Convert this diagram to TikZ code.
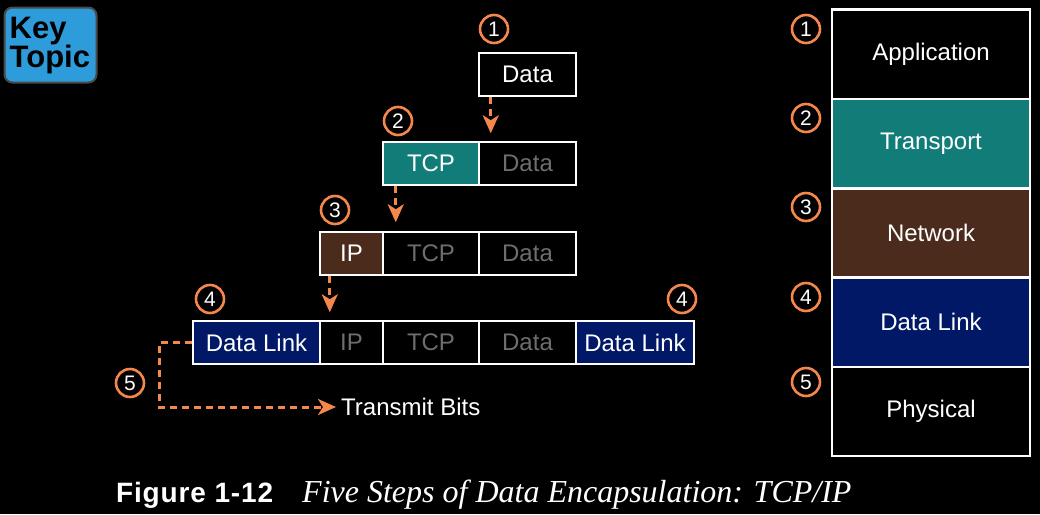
\documentclass[tikz,border=0pt]{standalone}
\usepackage{fontspec}
\setmainfont{Liberation Sans}
\newfontfamily\capserif{Liberation Serif}
\usetikzlibrary{arrows.meta,calc}
\definecolor{tealc}{HTML}{127D78}
\definecolor{brownc}{HTML}{4B2C1C}
\definecolor{navyc}{HTML}{001866}
\definecolor{orangec}{HTML}{F4874B}
\definecolor{graytxt}{HTML}{6E6E6E}
\definecolor{ktblue}{HTML}{2E9BDB}
\definecolor{ktborder}{HTML}{4A4A4A}
\begin{document}
\begin{tikzpicture}[x=1pt,y=-1pt,
  cell/.style={draw=white, line width=2.5pt, minimum height=43pt, inner sep=0pt,
    text=white, font=\fontsize{24}{28}\selectfont},
  dim/.style={text=graytxt},
  layer/.style={draw=white, line width=2.5pt, minimum width=198pt, minimum height=89.3pt,
    inner sep=0pt, text=white, font=\fontsize{24}{28}\selectfont},
  stepnum/.style={circle, draw=orangec, line width=2.6pt, minimum size=28pt, inner sep=0pt,
    text=white, font=\fontsize{21}{21}\selectfont},
  arr/.style={draw=orangec, line width=3pt, dash pattern=on 7pt off 5pt,
    -{Stealth[length=18pt,width=16pt,inset=5pt]}}
]
\fill[black] (0,0) rectangle (1040,514);
\useasboundingbox (0,0) rectangle (1040,514);

% Key Topic
\node[draw=ktborder, fill=ktblue, rounded corners=8pt, line width=2pt,
  minimum width=92pt, minimum height=75pt, inner sep=0pt] (kt) at (50.5,45) {};
\node[anchor=north west, inner sep=0pt, align=left,
  font=\bfseries\fontsize{31}{26}\selectfont] (ktt) at (9.5,16.5) {Key\\Topic};

% Row 1
\node[cell, minimum width=97pt] (r1d) at (527.5,74.5) {Data};
% Row 2
\node[cell, fill=tealc, minimum width=96pt] (r2t) at (431,163.5) {TCP};
\node[cell, dim, minimum width=97pt] (r2d) at (527.5,163.5) {Data};
% Row 3
\node[cell, fill=brownc, minimum width=63pt] (r3i) at (351.5,253.5) {IP};
\node[cell, dim, minimum width=96pt] (r3t) at (431,253.5) {TCP};
\node[cell, dim, minimum width=97pt] (r3d) at (527.5,253.5) {Data};
% Row 4
\node[cell, fill=navyc, minimum width=127pt] (r4l) at (256.5,342.5) {Data Link};
\node[cell, dim, minimum width=63pt] (r4i) at (351.5,342.5) {IP};
\node[cell, dim, minimum width=96pt] (r4t) at (431,342.5) {TCP};
\node[cell, dim, minimum width=97pt] (r4d) at (527.5,342.5) {Data};
\node[cell, fill=navyc, minimum width=118pt] (r4r) at (635,342.5) {Data Link};

% step numbers (left)
\node[stepnum] (s1) at (494,29) {1};
\node[stepnum] (s2) at (398,121) {2};
\node[stepnum] (s3) at (335,210) {3};
\node[stepnum] (s4a) at (210,299) {4};
\node[stepnum] (s4b) at (682,299) {4};
\node[stepnum] (s5) at (130,383) {5};

% arrows
\coordinate (a1s) at ($(r1d.south west)+(13,0)$);
\coordinate (a1e) at ($(a1s)+(0,36)$);
\draw[arr] (a1s) -- (a1e);
\coordinate (a2s) at ($(r2t.south west)+(14,0)$);
\coordinate (a2e) at ($(a2s)+(0,36)$);
\draw[arr] (a2s) -- (a2e);
\coordinate (a3s) at ($(r3i.south west)+(11,0)$);
\coordinate (a3e) at ($(a3s)+(0,36)$);
\draw[arr] (a3s) -- (a3e);

\node[anchor=west, inner sep=0pt, text=white, font=\fontsize{24}{28}\selectfont] (tb) at (341,407) {Transmit Bits};
\coordinate (c1) at (159,342.5);
\coordinate (c2) at (159,407);
\coordinate (c3) at (336,407);
\draw[arr] (r4l.west) -- (c1) -- (c2) -- (c3);

% right stack
\node[layer] (L1) at (931,54.3) {Application};
\node[layer, fill=tealc] (L2) at (931,143.6) {Transport};
\node[layer, fill=brownc] (L3) at (931,232.9) {Network};
\node[layer, fill=navyc] (L4) at (931,322.2) {Data Link};
\node[layer] (L5) at (931,411.5) {Physical};

\node[stepnum] (t1) at (806,29) {1};
\node[stepnum] (t2) at (806,118) {2};
\node[stepnum] (t3) at (806,207) {3};
\node[stepnum] (t4) at (806,297) {4};
\node[stepnum] (t5) at (806,382) {5};

% caption
\node[anchor=base west, inner sep=0pt, text=white,
  font=\bfseries\fontsize{28}{28}\selectfont\addfontfeature{LetterSpace=3}] (capa) at (116,502) {Figure 1-12};
\node[anchor=base west, inner sep=0pt, text=white,
  font=\capserif\itshape\fontsize{32}{32}\selectfont] (capb) at (302,502) {Five Steps of Data Encapsulation: TCP/IP};
\end{tikzpicture}
\end{document}
